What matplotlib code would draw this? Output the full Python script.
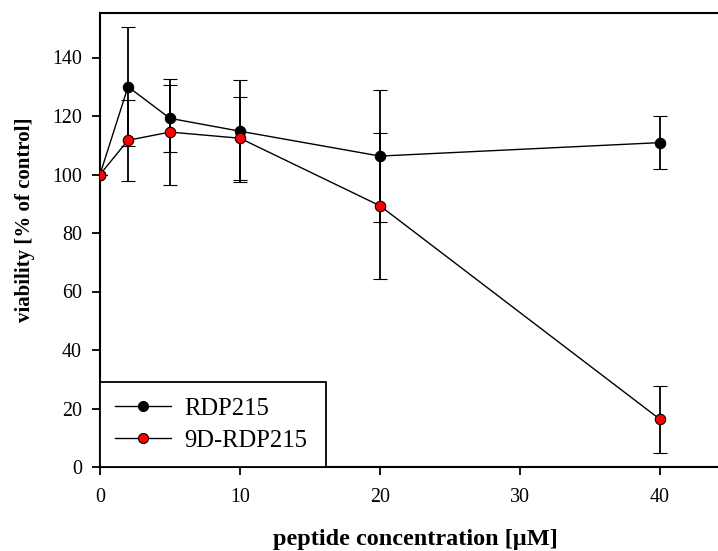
"""Viability of cells after RDP215 / 9D-RDP215 treatment."""

import matplotlib
matplotlib.use('Agg')
import matplotlib.pyplot as plt
from matplotlib.lines import Line2D

plt.rcParams['font.family'] = ['Liberation Serif', 'DejaVu Serif']

conc = [0, 2, 5, 10, 20, 40]
rdp_mean = [100, 130.0, 119.2, 114.8, 106.3, 110.9]
rdp_err = [0, 20.4, 11.4, 17.4, 22.6, 9.0]
d9_mean = [100, 111.7, 114.5, 112.4, 89.3, 16.3]
d9_err = [0, 13.8, 18.0, 14.2, 25.0, 11.4]
labels = ['RDP215', '9D-RDP215']
colors = ['black', '#ff0000']
xticks = [0, 10, 20, 30, 40]
yticks = [0, 20, 40, 60, 80, 100, 120, 140]

W, H = 718, 551
fig = plt.figure(figsize=(W / 100, H / 100), dpi=100)
ax = fig.add_axes([100 / W, (H - 467) / H, (W - 100) / W, (467 - 13) / H])

style = dict(color='black', lw=1.0, marker='o', ms=7.5, mec='black', mew=0.8,
             ecolor='black', elinewidth=1.3, capsize=5, capthick=1.3)
for i, (m, e) in enumerate([(rdp_mean, rdp_err), (d9_mean, d9_err)]):
    ax.errorbar(conc, m, yerr=e, mfc=colors[i], zorder=3 + i, **style)

ax.set_xlim(0, (W - 100) / 14)
ax.set_ylim(0, (467 - 13) / 2.925)
ax.set_xticks(xticks)
ax.set_yticks(yticks)
ax.tick_params(direction='out', length=6, width=1.3, labelsize=14.4)
ax.tick_params(axis='x', pad=9)
ax.tick_params(axis='y', pad=7)
ax.spines['right'].set_visible(False)
for s in ('left', 'bottom', 'top'):
    ax.spines[s].set_linewidth(1.5)

ax.set_xlabel('peptide concentration [µM]', fontsize=17.5, fontweight='bold')
ax.xaxis.set_label_coords((415 - 100) / (W - 100), -(540 - 467) / (467 - 13))
ax.xaxis.label.set_va('center')
ax.set_ylabel('viability [% of control]', fontsize=15, fontweight='bold')
ax.yaxis.set_label_coords(-(100 - 25) / (W - 100), (467 - 220) / (467 - 13))
ax.yaxis.label.set_va('center')

handles = [Line2D([], [], color='black', lw=1.0, marker='o', ms=7.2,
                  mfc=c, mec='black', mew=0.8) for c in colors]
leg = ax.legend(handles, labels, loc='lower left',
                bbox_to_anchor=(0, 0, 226 / (W - 100), 0.2), mode='expand',
                borderaxespad=0, fontsize=17.7, fancybox=False, framealpha=1,
                edgecolor='black', handlelength=2.28, borderpad=0.62,
                labelspacing=0.4, handletextpad=0.52)
leg.get_frame().set_linewidth(1.3)

fig.savefig('out.png', dpi=100)
